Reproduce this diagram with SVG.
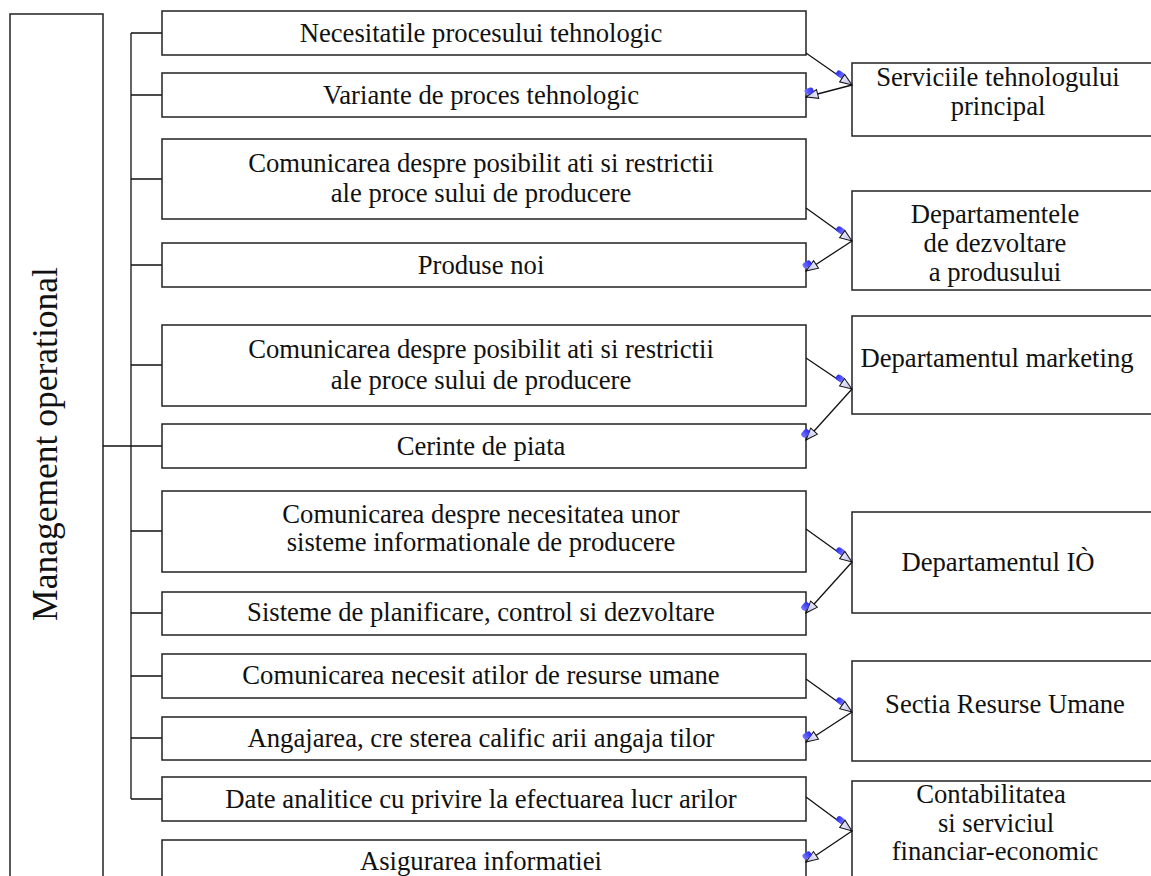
<svg xmlns="http://www.w3.org/2000/svg" width="1151" height="876" viewBox="0 0 1151 876">
  <defs>
    <style>
      .box { fill: #ffffff; stroke: #222222; stroke-width: 1.5; }
      .wire { fill: none; stroke: #111111; stroke-width: 1.3; }
      .flow { fill: none; stroke: #111111; stroke-width: 1.3; }
      .t { font-family: "Liberation Serif", "Times New Roman", serif; font-size: 26.67px; fill: #111111; text-anchor: middle; }
      .title { font-family: "Liberation Serif", "Times New Roman", serif; font-size: 35.5px; fill: #111111; text-anchor: middle; }
    </style>
    <linearGradient id="headFill" x1="0" y1="0" x2="1" y2="0">
      <stop offset="0" stop-color="#e8e8fb"/>
      <stop offset="1" stop-color="#b9b9ee"/>
    </linearGradient>
    <linearGradient id="dotFill" x1="0" y1="0" x2="1" y2="0">
      <stop offset="0" stop-color="#2a2af2"/>
      <stop offset="1" stop-color="#7b7bff"/>
    </linearGradient>
    <!-- arrowhead entering a department box -->
    <marker id="arrIn" markerUnits="userSpaceOnUse" markerWidth="30" markerHeight="30" refX="0" refY="0" orient="auto" overflow="visible">
      <rect x="-20" y="-5" width="9" height="6" rx="2.5" fill="url(#dotFill)"/>
      <path d="M0,0 L-12,-4.5 L-12,4.5 Z" fill="url(#headFill)" stroke="#111111" stroke-width="1"/>
    </marker>
    <!-- arrowhead returning to an operational box -->
    <marker id="arrOut" markerUnits="userSpaceOnUse" markerWidth="30" markerHeight="30" refX="0" refY="0" orient="auto" overflow="visible">
      <path d="M0,0 L-12,-4.5 L-12,4.5 Z" fill="url(#headFill)" stroke="#111111" stroke-width="1"/>
      <rect x="-9" y="2" width="9" height="6" rx="2.5" fill="url(#dotFill)"/>
    </marker>
  </defs>

  <rect width="1151" height="876" fill="#ffffff"/>

  <!-- vertical title box -->
  <g id="management">
    <rect class="box" x="10" y="14" width="93" height="880" stroke-width="2"/>
    <text class="title" transform="translate(57,444) rotate(-90)">Management operational</text>
  </g>

  <!-- tree wiring from the title box to the operational boxes -->
  <g id="tree">
    <path class="wire" d="M103,446 H162"/>
    <path class="wire" d="M131,33 V799"/>
    <path class="wire" d="M131,33 H162 M131,95 H162 M131,179 H162 M131,265 H162 M131,365 H162 M131,531 H162 M131,613 H162 M131,676 H162 M131,738 H162 M131,799 H162"/>
  </g>

  <!-- operational boxes -->
  <g id="op1"><rect class="box" x="162" y="11" width="644" height="44"/><text class="t" x="481" y="42">Necesitatile procesului tehnologic</text></g>
  <g id="op2"><rect class="box" x="162" y="73" width="644" height="44"/><text class="t" x="481" y="104">Variante de proces tehnologic</text></g>
  <g id="op3"><rect class="box" x="162" y="139" width="644" height="80"/><text class="t" x="481" y="172">Comunicarea despre posibilit ati si restrictii</text><text class="t" x="481" y="202">ale proce sului de producere</text></g>
  <g id="op4"><rect class="box" x="162" y="243" width="644" height="44"/><text class="t" x="481" y="274">Produse noi</text></g>
  <g id="op5"><rect class="box" x="162" y="325" width="644" height="81"/><text class="t" x="481" y="358">Comunicarea despre posibilit ati si restrictii</text><text class="t" x="481" y="389">ale proce sului de producere</text></g>
  <g id="op6"><rect class="box" x="162" y="424" width="644" height="44"/><text class="t" x="481" y="455">Cerinte de piata</text></g>
  <g id="op7"><rect class="box" x="162" y="491" width="644" height="81"/><text class="t" x="481" y="523">Comunicarea despre necesitatea unor</text><text class="t" x="481" y="551">sisteme informationale de producere</text></g>
  <g id="op8"><rect class="box" x="162" y="592" width="644" height="43"/><text class="t" x="481" y="621">Sisteme de planificare, control si dezvoltare</text></g>
  <g id="op9"><rect class="box" x="162" y="654" width="644" height="44"/><text class="t" x="481" y="684">Comunicarea necesit atilor de resurse umane</text></g>
  <g id="op10"><rect class="box" x="162" y="717" width="644" height="43"/><text class="t" x="481" y="747">Angajarea, cre sterea calific arii angaja tilor</text></g>
  <g id="op11"><rect class="box" x="162" y="777" width="644" height="44"/><text class="t" x="481" y="808">Date analitice cu privire la efectuarea lucr arilor</text></g>
  <g id="op12"><rect class="box" x="162" y="840" width="644" height="50"/><text class="t" x="481" y="870">Asigurarea informatiei</text></g>

  <!-- departments -->
  <g id="dep1"><rect class="box" x="852" y="63" width="310" height="73"/><text class="t" x="998" y="86">Serviciile tehnologului</text><text class="t" x="998" y="115">principal</text></g>
  <g id="dep2"><rect class="box" x="852" y="191" width="310" height="99"/><text class="t" x="995" y="223">Departamentele</text><text class="t" x="995" y="252">de dezvoltare</text><text class="t" x="995" y="281">a produsului</text></g>
  <g id="dep3"><rect class="box" x="852" y="316" width="310" height="98"/><text class="t" x="997" y="367">Departamentul marketing</text></g>
  <g id="dep4"><rect class="box" x="852" y="512" width="310" height="101"/><text class="t" x="998" y="571">Departamentul IÒ</text></g>
  <g id="dep5"><rect class="box" x="852" y="661" width="310" height="100"/><text class="t" x="1005" y="713">Sectia Resurse Umane</text></g>
  <g id="dep6"><rect class="box" x="852" y="781" width="310" height="110"/><text class="t" x="991" y="803">Contabilitatea</text><text class="t" x="996" y="832"> si serviciul</text><text class="t" x="995" y="860">financiar-economic</text></g>

  <!-- information flows -->
  <g id="flows">
    <path class="flow" d="M806,53 L852,85" marker-end="url(#arrIn)"/>
    <path class="flow" d="M852,85 L806,97" marker-end="url(#arrOut)"/>
    <path class="flow" d="M806,208 L852,241" marker-end="url(#arrIn)"/>
    <path class="flow" d="M852,241 L806,271" marker-end="url(#arrOut)"/>
    <path class="flow" d="M806,358 L852,389" marker-end="url(#arrIn)"/>
    <path class="flow" d="M852,389 L806,440" marker-end="url(#arrOut)"/>
    <path class="flow" d="M806,529 L852,562" marker-end="url(#arrIn)"/>
    <path class="flow" d="M852,562 L806,613" marker-end="url(#arrOut)"/>
    <path class="flow" d="M806,679 L852,712" marker-end="url(#arrIn)"/>
    <path class="flow" d="M852,712 L806,742" marker-end="url(#arrOut)"/>
    <path class="flow" d="M806,797 L852,831" marker-end="url(#arrIn)"/>
    <path class="flow" d="M852,831 L806,862" marker-end="url(#arrOut)"/>
  </g>
</svg>
